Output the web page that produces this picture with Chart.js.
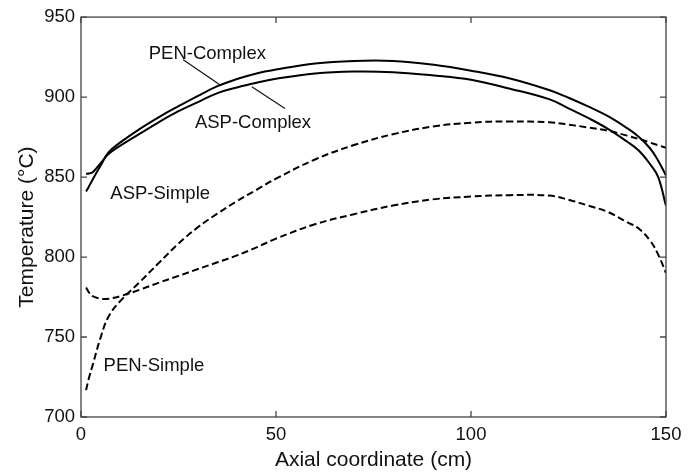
<!DOCTYPE html>
<html>
<head>
<meta charset="utf-8">
<script src="https://cdn.jsdelivr.net/npm/chart.js@4.4.1/dist/chart.umd.min.js"></script>
<style>
  html, body { margin: 0; padding: 0; background: #fff; }
</style>
</head>
<body>
<canvas id="chart" width="699" height="474"></canvas>
<script>
// --------------------------------------------------------------------------
// DATA
// --------------------------------------------------------------------------
const axialCm = [1.3, 2, 3, 5, 7, 10, 15, 20, 25, 30, 35, 40, 45, 50, 60, 70, 80, 90, 100, 110, 120, 125, 130, 135, 140, 143, 146, 148, 150];

const penComplex = [841, 844, 848.5, 857, 865.3, 871.5, 880, 887.5, 894.3, 900.8, 906.8, 911.3, 914.8, 917.2, 921, 922.6, 922.6, 920.3, 916.5, 911.6, 904.4, 899.6, 894.2, 888.2, 880.6, 875.2, 867.7, 860.2, 851];
const aspComplex = [852, 852.2, 853, 858.6, 864.3, 869.5, 877, 884.4, 891.2, 896.9, 902.5, 906, 908.9, 911.4, 914.8, 916, 915.6, 913.6, 910.8, 905.2, 898.7, 893, 887, 880.3, 872.2, 866.6, 857.8, 850, 832];
const aspSimple  = [716.8, 724, 732.5, 749.5, 762.5, 772.3, 784.2, 796.4, 808.4, 818.7, 827.2, 835, 842, 849, 861, 870, 876.8, 881.5, 884, 884.8, 884.2, 882.8, 881, 879, 875.9, 873.9, 871.5, 869.9, 868.3];
const penSimple  = [781, 778, 775.5, 774, 773.9, 775.5, 779.5, 784, 788.2, 792.5, 796.7, 801, 806, 811.5, 820.5, 826.8, 832.2, 836, 837.8, 838.7, 838.4, 835.8, 832.2, 828.3, 821.8, 817.8, 810, 801.5, 790];

const xTicks = [0, 50, 100, 150];
const yTicks = [700, 750, 800, 850, 900, 950];

// curve labels, in data units
const noteTexts = ['PEN-Complex', 'ASP-Complex', 'ASP-Simple', 'PEN-Simple'];
const noteX = [32.4, 44.1, 20.3, 18.7];
const noteY = [927, 884.1, 839.3, 731.7];

// leader lines from label to curve, in data units
const leaderFromX = [26.2, 43.8];
const leaderFromY = [923.3, 906.5];
const leaderToX = [35.6, 52.3];
const leaderToY = [907.7, 892.8];

const FONT = "'Liberation Sans', Arial, Helvetica, sans-serif";
const TICK_LEN = 6;
const Y_TITLE = 'Temperature (°C)';

function toPoints(ys) {
    return ys.map((v, i) => ({ x: axialCm[i], y: v }));
}

function curve(label, ys, dashed) {
    return {
        label,
        data: toPoints(ys),
        borderColor: '#000',
        borderWidth: 2,
        borderDash: dashed ? [7, 3.5] : [],
        pointRadius: 0,
        fill: false,
        tension: 0.4,
    };
}

// --------------------------------------------------------------------------
// FRAME, INWARD TICKS, Y TITLE AND CURVE LABELS
// --------------------------------------------------------------------------
const framePlugin = {
    id: 'frame',
    afterDatasetsDraw(chart) {
        const { ctx, chartArea: a, scales: { x, y } } = chart;
        ctx.save();
        ctx.strokeStyle = '#444';
        ctx.lineWidth = 1.3;
        ctx.strokeRect(a.left, a.top, a.right - a.left, a.bottom - a.top);

        ctx.beginPath();
        xTicks.forEach(v => {
            const px = x.getPixelForValue(v);
            ctx.moveTo(px, a.bottom); ctx.lineTo(px, a.bottom - TICK_LEN);
            ctx.moveTo(px, a.top); ctx.lineTo(px, a.top + TICK_LEN);
        });
        yTicks.forEach(v => {
            const py = y.getPixelForValue(v);
            ctx.moveTo(a.left, py); ctx.lineTo(a.left + TICK_LEN, py);
            ctx.moveTo(a.right, py); ctx.lineTo(a.right - TICK_LEN, py);
        });
        ctx.stroke();

        ctx.strokeStyle = '#111';
        ctx.lineWidth = 1.2;
        ctx.beginPath();
        leaderFromX.forEach((v, i) => {
            ctx.moveTo(x.getPixelForValue(v), y.getPixelForValue(leaderFromY[i]));
            ctx.lineTo(x.getPixelForValue(leaderToX[i]), y.getPixelForValue(leaderToY[i]));
        });
        ctx.stroke();

        ctx.fillStyle = '#111';
        ctx.font = '18.5px ' + FONT;
        ctx.textAlign = 'center';
        ctx.textBaseline = 'middle';
        noteTexts.forEach((t, i) => {
            ctx.fillText(t, x.getPixelForValue(noteX[i]), y.getPixelForValue(noteY[i]));
        });

        // y title sits a little below the plot's middle in the original
        ctx.font = '21px ' + FONT;
        ctx.translate(27, (a.top + a.bottom) / 2 + 10);
        ctx.rotate(-Math.PI / 2);
        ctx.fillText(Y_TITLE, 0, 0);
        ctx.restore();
    }
};

new Chart(document.getElementById('chart'), {
    type: 'line',
    data: {
        datasets: [
            curve('PEN-Complex', penComplex, false),
            curve('ASP-Complex', aspComplex, false),
            curve('ASP-Simple', aspSimple, true),
            curve('PEN-Simple', penSimple, true),
        ]
    },
    options: {
        responsive: false,
        animation: false,
        events: [],
        layout: { padding: { top: 15, right: 33, left: 0, bottom: 0 } },
        plugins: { legend: { display: false }, tooltip: { enabled: false } },
        scales: {
            x: {
                type: 'linear',
                min: 0, max: 150,
                afterFit: s => { s.height = 57; },
                afterBuildTicks: s => { s.ticks = xTicks.map(v => ({ value: v })); },
                grid: { display: false, drawTicks: false },
                border: { display: false },
                ticks: { color: '#111', padding: 7, maxRotation: 0, font: { family: FONT, size: 18.5 } },
                title: { display: true, text: 'Axial coordinate (cm)', color: '#111', padding: { top: 0, bottom: 1.5 }, font: { family: FONT, size: 21 } }
            },
            y: {
                type: 'linear',
                min: 700, max: 950,
                afterFit: s => { s.width = 81; },
                afterBuildTicks: s => { s.ticks = yTicks.map(v => ({ value: v })); },
                grid: { display: false, drawTicks: false },
                border: { display: false },
                ticks: { color: '#111', padding: 6, font: { family: FONT, size: 18.5 } },
                title: { display: false }
            }
        }
    },
    plugins: [framePlugin]
});
</script>
</body>
</html>
